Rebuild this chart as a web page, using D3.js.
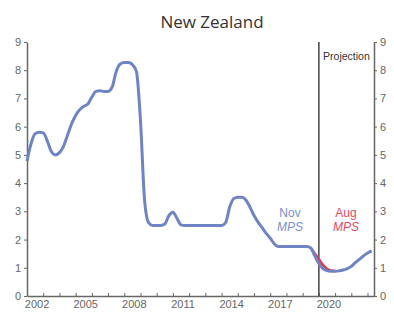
<!DOCTYPE html>
<html>
<head>
<meta charset="utf-8">
<script src="https://cdn.jsdelivr.net/npm/d3@7"></script>
<style>
  body { margin: 0; background: #fff; }
  svg { display: block; }
</style>
</head>
<body>
<div id="chart-area"></div>
<script>
/* New Zealand - policy rate, history and projections */

// history (quarterly)
var histYears = [
  2002, 2002.25, 2002.5, 2002.75, 2003, 2003.25, 2003.5, 2003.75,
  2004, 2004.25, 2004.5, 2004.75, 2005, 2005.25, 2005.5, 2005.75,
  2006, 2006.25, 2006.5, 2006.75, 2007, 2007.25, 2007.5, 2007.75,
  2008, 2008.25, 2008.5, 2008.75, 2009, 2009.25, 2009.5, 2009.75,
  2010, 2010.25, 2010.5, 2010.75, 2011, 2011.25, 2011.5, 2011.75,
  2012, 2012.25, 2012.5, 2012.75, 2013, 2013.25, 2013.5, 2013.75,
  2014, 2014.25, 2014.5, 2014.75, 2015, 2015.25, 2015.5, 2015.75,
  2016, 2016.25, 2016.5, 2016.75, 2017, 2017.25, 2017.5, 2017.75,
  2018, 2018.25, 2018.5, 2018.75, 2019, 2019.25, 2019.5, 2019.75
];
var histValues = [
  4.78, 5.4, 5.75, 5.8, 5.78, 5.5, 5.12, 5.0,
  5.08, 5.3, 5.7, 6.1, 6.4, 6.6, 6.72, 6.8,
  7.05, 7.25, 7.27, 7.25, 7.25, 7.4, 7.95, 8.22,
  8.27, 8.27, 8.2, 7.95, 6.2, 3.4, 2.6, 2.5,
  2.5, 2.5, 2.55, 2.85, 2.97, 2.75, 2.52, 2.5,
  2.5, 2.5, 2.5, 2.5, 2.5, 2.5, 2.5, 2.5,
  2.5, 2.6, 3.15, 3.45, 3.5, 3.5, 3.4, 3.15,
  2.85, 2.62, 2.42, 2.22, 2.05, 1.85, 1.75, 1.75,
  1.75, 1.75, 1.75, 1.75, 1.75, 1.75, 1.7, 1.42
];

// Nov MPS projection
var novYears = [2019.75, 2020, 2020.25, 2020.5, 2020.75, 2021, 2021.25, 2021.5,
  2021.75, 2022, 2022.25, 2022.5, 2022.75, 2023, 2023.25];
var novValues = [1.42, 1.15, 0.97, 0.9, 0.88, 0.88, 0.89, 0.92,
  0.97, 1.05, 1.18, 1.3, 1.42, 1.52, 1.6];

// Aug MPS projection
var augYears = [2019.5, 2019.75, 2020, 2020.25, 2020.5, 2020.75, 2021];
var augValues = [1.7, 1.5, 1.3, 1.1, 0.96, 0.9, 0.88];

var projectionStart = 2020;
var yTicks = [0, 1, 2, 3, 4, 5, 6, 7, 8, 9];
var yearTicks = d3.range(2002, 2024);
var labelYears = [2002, 2005, 2008, 2011, 2014, 2017, 2020];

/******************************
*	DIMENSIONS				  *
******************************/
var W = 394, H = 315;
var plotLeft = 27, plotRight = 374, plotTop = 42, plotBottom = 296;

var svg = d3.select("#chart-area")
	.append("svg")
		.attr("width", W)
		.attr("height", H)
		.style("font-family", "'Liberation Sans', Arial, sans-serif");

var x = d3.scaleLinear().domain([2002, 2023.4]).range([plotLeft, plotRight]);
var y = d3.scaleLinear().domain([0, 9]).range([plotBottom, plotTop]);

var axisColor = "#666";
var labelColor = "#666";

// title
svg.append("text")
	.attr("x", 212)
	.attr("y", 28)
	.attr("text-anchor", "middle")
	.style("font-family", "'Open Sans', sans-serif")
	.style("font-size", "17px")
	.attr("fill", "#333")
	.text("New Zealand");

/******************************
*	AXES					  *
******************************/
var yLeft = svg.append("g")
	.attr("transform", "translate(" + plotLeft + ",0)")
	.call(d3.axisLeft(y).tickValues(yTicks).tickSize(3).tickSizeOuter(0).tickPadding(3));

var yRight = svg.append("g")
	.attr("transform", "translate(" + plotRight + ",0)")
	.call(d3.axisRight(y).tickValues(yTicks).tickSize(3).tickSizeOuter(0).tickPadding(3));

var xAxis = svg.append("g")
	.attr("transform", "translate(0," + plotBottom + ")")
	.call(d3.axisBottom(x).tickValues(yearTicks).tickSize(-3).tickSizeOuter(0).tickFormat(""));

[yLeft, yRight, xAxis].forEach(function(g) {
	g.select(".domain").attr("stroke", axisColor).attr("stroke-width", 1.5);
	g.selectAll(".tick line").attr("stroke", axisColor);
	g.selectAll(".tick text")
		.attr("fill", labelColor)
		.style("font-size", "11px")
		.style("font-family", "'Liberation Sans', Arial, sans-serif");
});

// year labels sit between the ticks
svg.selectAll(".year-label")
	.data(labelYears)
	.enter()
	.append("text")
		.attr("class", "year-label")
		.attr("x", function(d) { return x(d + 0.62); })
		.attr("y", plotBottom + 12)
		.attr("text-anchor", "middle")
		.attr("fill", labelColor)
		.style("font-size", "11px")
		.text(function(d) { return d; });

// projection divider
svg.append("line")
	.attr("x1", x(projectionStart))
	.attr("x2", x(projectionStart))
	.attr("y1", y(9))
	.attr("y2", y(0))
	.attr("stroke", "#444")
	.attr("stroke-width", 1.5);

svg.append("text")
	.attr("x", (x(projectionStart) + plotRight) / 2)
	.attr("y", y(9) + 18)
	.attr("text-anchor", "middle")
	.attr("fill", "#333")
	.style("font-size", "10.5px")
	.text("Projection");

/******************************
*	LINES					  *
******************************/
var line = d3.line()
	.x(function(d) { return x(d[0]); })
	.y(function(d) { return y(d[1]); })
	.curve(d3.curveMonotoneX);

var blue = "#6e84c4";
var red = "#e03b50";

var augData = d3.zip(augYears, augValues);
var novData = d3.zip(histYears, histValues).concat(d3.zip(novYears, novValues).slice(1));

svg.append("path")
	.datum(augData)
	.attr("d", line)
	.attr("fill", "none")
	.attr("stroke", red)
	.attr("stroke-width", 2.6);

svg.append("path")
	.datum(novData)
	.attr("d", line)
	.attr("fill", "none")
	.attr("stroke", blue)
	.attr("stroke-width", 3)
	.attr("stroke-linejoin", "round");

/******************************
*	LABELS					  *
******************************/
function seriesLabel(cx, color, month) {
	svg.append("text")
		.attr("x", cx).attr("y", 217)
		.attr("text-anchor", "middle")
		.attr("fill", color)
		.style("font-size", "12px")
		.text(month);
	svg.append("text")
		.attr("x", cx).attr("y", 231)
		.attr("text-anchor", "middle")
		.attr("fill", color)
		.style("font-size", "12px")
		.style("font-style", "italic")
		.text("MPS");
}
seriesLabel(290, "#7a90d0", "Nov");
seriesLabel(346, "#e8485e", "Aug");
</script>
</body>
</html>
